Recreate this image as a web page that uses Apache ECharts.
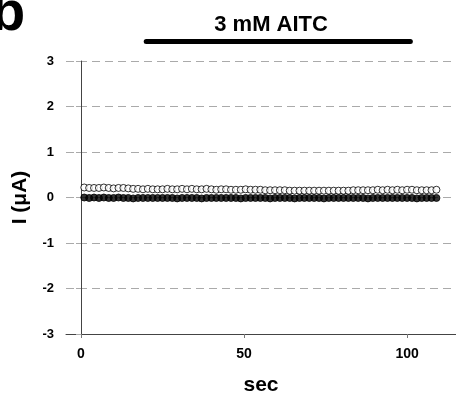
<!DOCTYPE html>
<html><head><meta charset="utf-8">
<script src="https://cdn.jsdelivr.net/npm/echarts@6/dist/echarts.min.js"></script>
<style>html,body{margin:0;padding:0;background:#fff}#c{width:456px;height:397px}</style>
</head><body><div id="c"></div>
<script>
const timeSec = [1,2.5,4,5.5,7,8.5,10,11.5,13,14.5,16,17.5,19,20.5,22,23.5,25,26.5,28,29.5,31,32.5,34,35.5,37,38.5,40,41.5,43,44.5,46,47.5,49,50.5,52,53.5,55,56.5,58,59.5,61,62.5,64,65.5,67,68.5,70,71.5,73,74.5,76,77.5,79,80.5,82,83.5,85,86.5,88,89.5,91,92.5,94,95.5,97,98.5,100,101.5,103,104.5,106,107.5,109];
const openCurrent = [0.22,0.21,0.21,0.21,0.22,0.21,0.20,0.21,0.21,0.20,0.19,0.19,0.18,0.19,0.18,0.18,0.18,0.19,0.18,0.18,0.19,0.18,0.19,0.18,0.18,0.19,0.18,0.17,0.18,0.18,0.17,0.17,0.17,0.18,0.17,0.17,0.17,0.16,0.16,0.16,0.16,0.16,0.15,0.15,0.15,0.15,0.15,0.15,0.15,0.15,0.15,0.15,0.15,0.15,0.15,0.16,0.16,0.16,0.16,0.16,0.17,0.16,0.17,0.16,0.17,0.16,0.17,0.17,0.16,0.16,0.16,0.16,0.17];
const filledCurrent = [0.0,-0.01,0.0,-0.01,0.0,-0.01,-0.01,0.0,-0.01,-0.01,-0.02,-0.01,-0.01,-0.01,-0.01,-0.01,-0.01,-0.01,-0.01,-0.02,-0.01,-0.01,-0.01,-0.01,-0.02,-0.01,-0.01,-0.01,-0.01,-0.01,-0.01,-0.01,-0.02,-0.01,-0.01,-0.01,-0.01,-0.01,-0.02,-0.01,-0.01,-0.01,-0.01,-0.02,-0.01,-0.01,-0.01,-0.01,-0.01,-0.02,-0.01,-0.01,-0.01,-0.01,-0.01,-0.01,-0.01,-0.01,-0.02,-0.01,-0.01,-0.01,-0.01,-0.01,-0.01,-0.01,-0.01,-0.01,-0.02,-0.01,-0.01,-0.01,-0.01];
const xTicks = [0,50,100];
const drugStart = 20, drugEnd = 101, drugLabelCenter = 58.3;
const drugLabel = '3 mM AITC';
const panelLetter = 'b';

const F = 'Liberation Sans, Arial, sans-serif';
const chart = echarts.init(document.getElementById('c'), null, {renderer:'canvas'});
const openData = timeSec.map((t,i)=>[t, openCurrent[i]]);
const filledData = timeSec.map((t,i)=>[t, filledCurrent[i]]);
chart.setOption({
  animation:false,
  backgroundColor:'#fff',
  grid:{left:66, top:61, width:390, height:273, containLabel:false, outerBoundsMode:'none'},
  xAxis:{type:'value', min:-4.6, max:115,
    name:'sec', nameLocation:'middle', nameGap:41,
    nameTextStyle:{fontFamily:F, fontWeight:'bold', fontSize:21, color:'#000'},
    axisLine:{onZero:false, lineStyle:{color:'#444', width:1}},
    axisTick:{show:true, length:4, inside:false, customValues:xTicks, lineStyle:{color:'#777'}},
    axisLabel:{customValues:xTicks, margin:13, fontFamily:F, fontWeight:'bold', fontSize:14, color:'#000'},
    splitLine:{show:false}},
  yAxis:{type:'value', min:-3, max:3, interval:1,
    name:'I (\u03bcA)', nameLocation:'middle', nameGap:35, nameRotate:90,
    nameTextStyle:{fontFamily:F, fontWeight:'bold', fontSize:21, color:'#000'},
    axisLine:{show:true, lineStyle:{color:'#444', width:1}},
    axisTick:{show:true, length:5, lineStyle:{color:'#aaa'}},
    axisLabel:{margin:12, fontFamily:F, fontWeight:'bold', fontSize:13, color:'#000'},
    splitLine:{show:true, lineStyle:{color:'#aaa', type:[8,5], width:1}}},
  series:[
    {type:'scatter', data:openData, symbol:'circle', symbolSize:7,
     itemStyle:{color:'#fff', borderColor:'#000', borderWidth:1}, z:2},
    {type:'scatter', data:filledData, symbol:'circle', symbolSize:7,
     itemStyle:{color:'#000', borderColor:'#000', borderWidth:1}, z:3}
  ]
});
const xs = chart.convertToPixel({xAxisIndex:0}, drugStart);
const xe = chart.convertToPixel({xAxisIndex:0}, drugEnd);
const xc = chart.convertToPixel({xAxisIndex:0}, drugLabelCenter);
chart.setOption({graphic:[
  {type:'line', shape:{x1:xs, y1:41.5, x2:xe, y2:41.5}, style:{stroke:'#000', lineWidth:5, lineCap:'round'}},
  {type:'text', x:xc, y:25, style:{text:drugLabel, fill:'#000', font:'bold 22px '+F, textAlign:'center', textVerticalAlign:'middle'}},
  {type:'text', x:-9, y:-13, style:{text:panelLetter, fill:'#000', font:'bold 56px '+F, textAlign:'left', textVerticalAlign:'top'}}
]});
</script></body></html>
